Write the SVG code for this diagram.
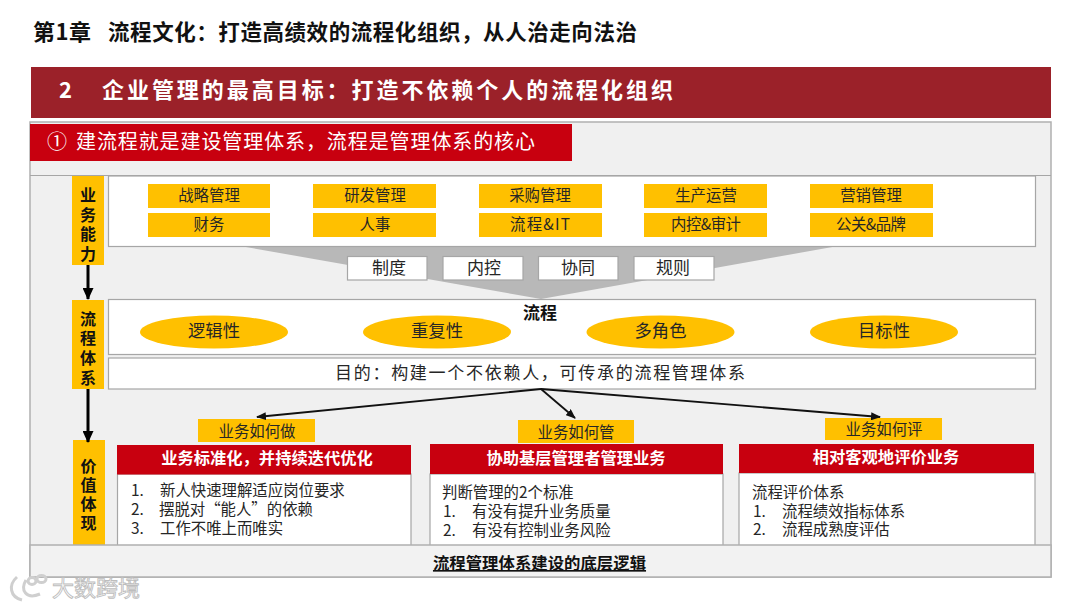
<svg xmlns="http://www.w3.org/2000/svg" width="1080" height="608" viewBox="0 0 1080 608">
<defs>
<style>
text{font-family:"Noto Sans CJK SC","Noto Sans",sans-serif;fill:#262626}
.c{text-anchor:middle}
.b{font-weight:700}
.y{fill:#ffc000}
.w{fill:#fff;stroke:#a6a6a6;stroke-width:1.2}
.r{fill:#c8000f}
.t15{font-size:15.400px}
.t16{font-size:16px}
.t17{font-size:17.300px}
.h{font-size:16.300px;font-weight:700;fill:#fff;text-anchor:middle}
.v{font-size:16px;font-weight:700;fill:#111;text-anchor:middle}
.conn{fill:none;stroke:#111;stroke-width:1.8}
.thick{fill:none;stroke:#000;stroke-width:3}
</style>
<marker id="ah" markerUnits="userSpaceOnUse" markerWidth="10" markerHeight="8" refX="9" refY="4" orient="auto"><path d="M0 0L10 4L0 8Z" fill="#111"/></marker>
<marker id="ahb" markerUnits="userSpaceOnUse" markerWidth="12" markerHeight="11" refX="11" refY="5.500" orient="auto"><path d="M0 0L12 5.500L0 11Z" fill="#000"/></marker>
</defs>
<rect width="1080" height="608" fill="#fff"/>
<text id="title" x="33" y="40" font-size="22" class="b" style="fill:#111" textLength="58">第1章</text>
<text x="108" y="40" font-size="21.500" class="b" style="fill:#111" textLength="529">流程文化：打造高绩效的流程化组织，从人治走向法治</text>
<g id="banner"><rect x="31" y="67" width="1020" height="51" fill="#9b2129"/>
<text x="59" y="98" font-size="22" class="b" style="fill:#fff">2</text>
<text x="102" y="98" font-size="22" class="b" style="fill:#fff" textLength="571">企业管理的最高目标：打造不依赖个人的流程化组织</text></g>
<g id="panel"><rect x="30" y="122" width="1021" height="455" fill="#f0f0f0" stroke="#b0b0b0" stroke-width="1.500"/>
<line x1="30" y1="175.500" x2="1051" y2="175.500" stroke="#a6a6a6" stroke-width="1.200"/></g>
<g id="subtitle"><rect x="30" y="124" width="542" height="37" class="r"/>
<text x="47" y="149" font-size="20" style="fill:#fff">①</text>
<text x="76" y="149" font-size="20" style="fill:#fff" textLength="459">建流程就是建设管理体系，流程是管理体系的核心</text></g>
<g id="funnel"><path d="M240 246H838L541 299Z" fill="#b8b8b8"/></g>
<g id="capability"><rect x="108.500" y="176" width="927" height="70.500" class="w"/>
<rect x="148" y="184" width="122" height="24" class="y"/><text x="209" y="201" class="c t15">战略管理</text>
<rect x="148" y="213" width="122" height="24" class="y"/><text x="209" y="230" class="c t15">财务</text>
<rect x="313" y="184" width="123" height="24" class="y"/><text x="375" y="201" class="c t15">研发管理</text>
<rect x="313" y="213" width="123" height="24" class="y"/><text x="375" y="230" class="c t15">人事</text>
<rect x="479" y="184" width="123" height="24" class="y"/><text x="540" y="201" class="c t15">采购管理</text>
<rect x="479" y="213" width="123" height="24" class="y"/><text x="540" y="230" class="c t15" textLength="60">流程&amp;IT</text>
<rect x="644" y="184" width="123" height="24" class="y"/><text x="706" y="201" class="c t15">生产运营</text>
<rect x="644" y="213" width="123" height="24" class="y"/><text x="706" y="230" class="c t15" textLength="70">内控&amp;审计</text>
<rect x="810" y="184" width="123" height="24" class="y"/><text x="871" y="201" class="c t15">营销管理</text>
<rect x="810" y="213" width="123" height="24" class="y"/><text x="871" y="230" class="c t15" textLength="70">公关&amp;品牌</text></g>
<g id="rules">
<rect x="347.500" y="256.500" width="79.500" height="23.500" class="w"/><text x="389" y="274" class="c" font-size="17">制度</text>
<rect x="443" y="256.500" width="80" height="23.500" class="w"/><text x="484" y="274" class="c" font-size="17">内控</text>
<rect x="538.500" y="256.500" width="79.500" height="23.500" class="w"/><text x="578" y="274" class="c" font-size="17">协同</text>
<rect x="634" y="256.500" width="80" height="23.500" class="w"/><text x="673" y="274" class="c" font-size="17">规则</text></g>
<g id="process"><rect x="108.500" y="299.500" width="927" height="55" class="w"/>
<text x="540" y="319" class="c b" font-size="17" style="fill:#111">流程</text>
<ellipse cx="214" cy="332" rx="74" ry="16.500" class="y"/><text x="214" y="337" class="c t17">逻辑性</text>
<ellipse cx="437" cy="332" rx="74" ry="16.500" class="y"/><text x="437" y="337" class="c t17">重复性</text>
<ellipse cx="660.500" cy="332" rx="74" ry="16.500" class="y"/><text x="660.500" y="337" class="c t17">多角色</text>
<ellipse cx="884" cy="332" rx="74" ry="16.500" class="y"/><text x="884" y="337" class="c t17">目标性</text></g>
<g id="purpose"><rect x="108.500" y="358" width="927" height="31" class="w"/>
<text x="335" y="379" font-size="17" textLength="410">目的：构建一个不依赖人，可传承的流程管理体系</text></g>
<g id="label1"><rect x="72" y="176" width="32" height="89" class="y"/>
<text class="v"><tspan x="88" y="201">业</tspan><tspan x="88" y="221">务</tspan><tspan x="88" y="240">能</tspan><tspan x="88" y="260">力</tspan></text></g>
<g id="label2"><rect x="72" y="300" width="32" height="89" class="y"/>
<text class="v"><tspan x="88" y="325">流</tspan><tspan x="88" y="344">程</tspan><tspan x="88" y="364">体</tspan><tspan x="88" y="384">系</tspan></text></g>
<g id="label3"><rect x="73" y="440" width="32" height="105" class="y"/>
<text class="v"><tspan x="88.500" y="472">价</tspan><tspan x="88.500" y="491">值</tspan><tspan x="88.500" y="510">体</tspan><tspan x="88.500" y="529">现</tspan></text></g>
<g id="card1"><rect x="117.500" y="474" width="293.500" height="72" class="w"/><rect x="117" y="445" width="294" height="29.500" class="r"/>
<text x="267" y="464" class="h">业务标准化，并持续迭代优化</text>
<text class="t15"><tspan x="131" y="496">1.</tspan><tspan x="160" y="496">新人快速理解适应岗位要求</tspan><tspan x="131" y="515">2.</tspan><tspan x="159" y="515">摆脱对“能人”的依赖</tspan><tspan x="131" y="534">3.</tspan><tspan x="160" y="534">工作不唯上而唯实</tspan></text></g>
<g id="card2"><rect x="430" y="474" width="293" height="72" class="w"/><rect x="430" y="444" width="293" height="30" class="r"/>
<text x="576" y="464" class="h">协助基层管理者管理业务</text>
<text class="t15"><tspan x="442" y="498">判断管理的2个标准</tspan><tspan x="443" y="517">1.</tspan><tspan x="472" y="517">有没有提升业务质量</tspan><tspan x="443" y="536">2.</tspan><tspan x="472" y="536">有没有控制业务风险</tspan></text></g>
<g id="card3"><rect x="739" y="473" width="296" height="73" class="w"/><rect x="739" y="444" width="295" height="29" class="r"/>
<text x="886" y="463" class="h">相对客观地评价业务</text>
<text class="t15"><tspan x="752" y="498">流程评价体系</tspan><tspan x="753" y="517">1.</tspan><tspan x="782" y="517">流程绩效指标体系</tspan><tspan x="753" y="535">2.</tspan><tspan x="782" y="535">流程成熟度评估</tspan></text></g>
<g id="tags">
<rect x="198" y="419" width="117" height="23" class="y"/><text x="257" y="437" class="c t15">业务如何做</text>
<rect x="518" y="420" width="116" height="23" class="y"/><text x="576" y="438" class="c t15">业务如何管</text>
<rect x="825" y="418" width="117" height="22" class="y"/><text x="884" y="435" class="c t15">业务如何评</text></g>
<g id="bottom"><rect x="30" y="545" width="1021" height="32" fill="#f2f2f2" stroke="#b0b0b0" stroke-width="1.500"/>
<text x="539.500" y="569" class="c b" font-size="16.400" style="fill:#111;text-decoration:underline">流程管理体系建设的底层逻辑</text></g>
<g id="connectors">
<path d="M541 389L257 417" class="conn" marker-end="url(#ah)"/>
<path d="M541 389L575 418" class="conn" marker-end="url(#ah)"/>
<path d="M541 389L880 417" class="conn" marker-end="url(#ah)"/>
<path d="M88 265V299" class="thick" marker-end="url(#ahb)"/>
<path d="M88 389V442" class="thick" marker-end="url(#ahb)"/>
</g>
<g id="watermark">
<path d="M17 577C8 585 10 597 22 600M26 580C20 590 26 600 40 594M28 581a4 3.500 0 1 0 8 0a4 3.500 0 1 0-8 0M37 579a4.500 3.500 0 1 0 9 0a4.500 3.500 0 1 0-9 0" fill="none" stroke="#cfcfcf" stroke-width="3"/>
<text x="52" y="596" font-size="22" textLength="88" style="fill:#fff;stroke:#bdbdbd;stroke-width:.9">大数跨境</text>
</g>
</svg>
